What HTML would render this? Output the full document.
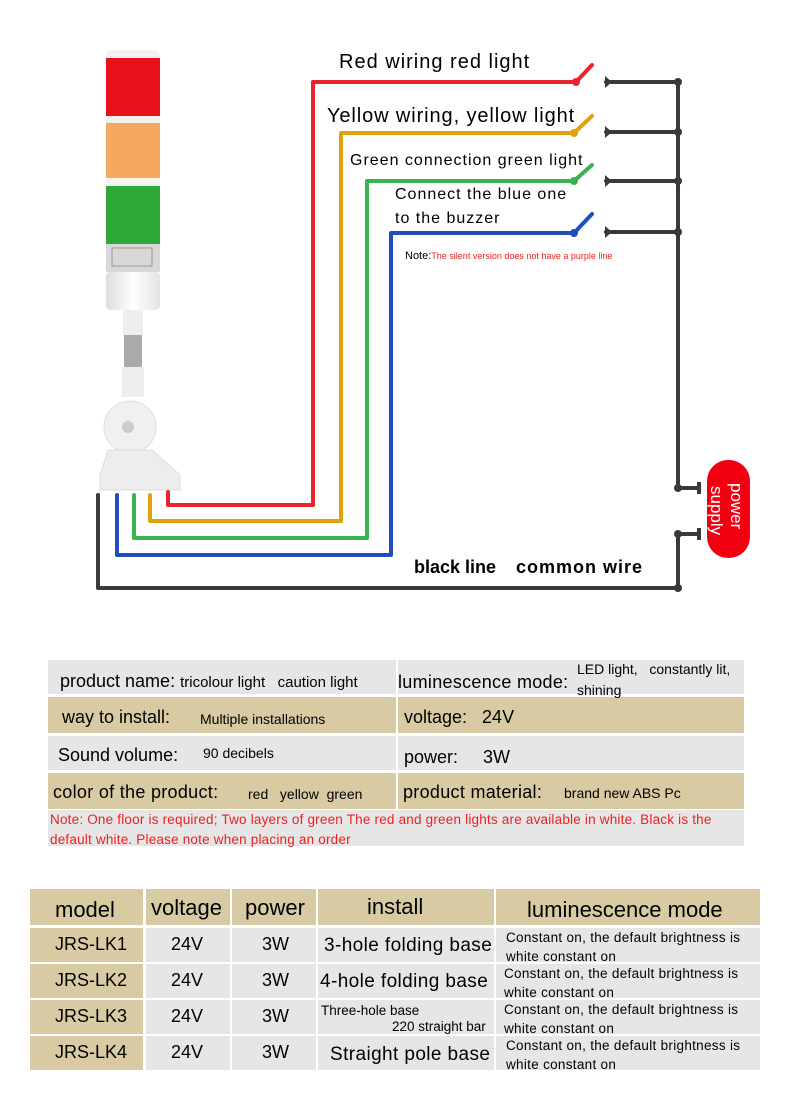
<!DOCTYPE html>
<html><head><meta charset="utf-8"><style>
body{margin:0;width:790px;height:1120px;background:#fff;position:relative;font-family:"Liberation Sans",sans-serif;overflow:hidden}
.a{position:absolute;white-space:nowrap}
.t1 div,.t2 div{position:absolute;box-sizing:border-box}
.g{background:#e6e6e6}.k{background:#d8cba3}
</style></head><body>
<svg class="a" style="left:0;top:0" width="790" height="620">
<defs><linearGradient id="wh" x1="0" x2="1"><stop offset="0" stop-color="#ddd"/><stop offset=".5" stop-color="#fff"/><stop offset="1" stop-color="#e4e4e4"/></linearGradient></defs>
<rect x="106" y="50" width="54" height="12" rx="5" fill="#f2f2f2"/>
<rect x="106" y="58" width="54" height="58" fill="#e8101a"/>
<rect x="106" y="116" width="54" height="8" fill="#f4f0ee"/>
<rect x="106" y="123" width="54" height="55" fill="#f5a860"/>
<rect x="106" y="178" width="54" height="8" fill="#f3f3f0"/>
<rect x="106" y="186" width="54" height="58" fill="#2fa83a"/>
<rect x="106" y="244" width="54" height="28" fill="#d8d8d8"/>
<rect x="112" y="248" width="40" height="18" fill="none" stroke="#999" stroke-width="1"/>
<rect x="106" y="272" width="54" height="38" rx="4" fill="url(#wh)"/>
<rect x="123" y="310" width="20" height="25" fill="#eee"/>
<rect x="124" y="335" width="18" height="32" fill="#aaa"/>
<rect x="122" y="367" width="22" height="30" fill="#eee"/>
<circle cx="130" cy="427" r="26" fill="#f0f0f0" stroke="#ddd"/>
<circle cx="128" cy="427" r="6" fill="#ccc"/>
<path d="M108 450 L152 450 L180 475 L180 490 L100 490 L100 475 Z" fill="#ededed" stroke="#ddd"/>
<g fill="none" stroke-width="4" stroke-linejoin="round" stroke-linecap="round">
<path d="M168 492 V505 H313 V82 H576 L592 65" stroke="#e8242c"/>
<path d="M150 495 V521 H341 V133 H574 L592 116" stroke="#e0a30d"/>
<path d="M134 495 V538 H367 V181 H574 L592 165" stroke="#3bb44f"/>
<path d="M117 495 V555 H391 V233 H574 L592 214" stroke="#1f4fbf"/>
<path d="M98 495 V588 H678 V534 H697 M678 82 V488 H697 M606 82 H678 M606 132 H678 M606 181 H678 M606 232 H678" stroke="#3a3a3a"/>
</g>
<circle cx="576" cy="82" r="4" fill="#e8242c"/>
<circle cx="574" cy="133" r="4" fill="#e0a30d"/><circle cx="574" cy="181" r="4" fill="#3bb44f"/><circle cx="574" cy="233" r="4" fill="#1f4fbf"/>
<g fill="#3a3a3a"><path d="M605 76 L612 82 L605 88Z"/><path d="M605 126 L612 132 L605 138Z"/><path d="M605 175 L612 181 L605 187Z"/><path d="M605 226 L612 232 L605 238Z"/>
<circle cx="678" cy="82" r="4"/><circle cx="678" cy="132" r="4"/><circle cx="678" cy="181" r="4"/><circle cx="678" cy="232" r="4"/><circle cx="678" cy="488" r="4"/><circle cx="678" cy="534" r="4"/><circle cx="678" cy="588" r="4"/>
<rect x="697" y="482" width="4" height="12"/><rect x="697" y="528" width="4" height="12"/></g>
<rect x="707" y="460" width="43" height="98" rx="21" fill="#f00010"/>
<text transform="translate(731,483) rotate(90)" font-size="17" fill="#fff" font-family="Liberation Sans">power</text>
<text transform="translate(711,486) rotate(90)" font-size="17" fill="#fff" font-family="Liberation Sans">supply</text>
</svg>
<div class="a" style="left:339px;top:51px;font-size:20px;letter-spacing:1px">Red wiring red light</div>
<div class="a" style="left:327px;top:105px;font-size:20px;letter-spacing:0.9px">Yellow wiring, yellow light</div>
<div class="a" style="left:350px;top:152px;font-size:16px;letter-spacing:1px">Green connection green light</div>
<div class="a" style="left:395px;top:186px;font-size:16px;letter-spacing:1px">Connect the blue one</div>
<div class="a" style="left:395px;top:210px;font-size:16px;letter-spacing:1px">to the buzzer</div>
<div class="a" style="left:405px;top:250px;font-size:11px">Note:<span style="color:#f02020;font-size:9px">The silent version does not have a purple line</span></div>
<div class="a" style="left:414px;top:557px;font-size:18px;font-weight:bold">black line</div>
<div class="a" style="left:516px;top:557px;font-size:18px;font-weight:bold;letter-spacing:1px">common wire</div>

<div class="t1">
<div class="g" style="left:48px;top:660px;width:348px;height:34px"></div><div class="g" style="left:398px;top:660px;width:346px;height:34px"></div>
<div class="k" style="left:48px;top:697px;width:348px;height:36px"></div><div class="k" style="left:398px;top:697px;width:346px;height:36px"></div>
<div class="g" style="left:48px;top:736px;width:348px;height:34px"></div><div class="g" style="left:398px;top:736px;width:346px;height:34px"></div>
<div class="k" style="left:48px;top:773px;width:348px;height:36px"></div><div class="k" style="left:398px;top:773px;width:346px;height:36px"></div>
<div class="g" style="left:48px;top:810px;width:696px;height:36px"></div>
</div>
<div class="a" style="left:60px;top:671px;font-size:18px">product name: <span style="font-size:15px">tricolour light &nbsp; caution light</span></div>
<div class="a" style="left:398px;top:672px;font-size:18px;letter-spacing:0.3px">luminescence mode:</div>
<div class="a" style="left:577px;top:661px;font-size:14px">LED light, &nbsp; constantly lit,</div>
<div class="a" style="left:577px;top:682px;font-size:14px">shining</div>
<div class="a" style="left:62px;top:707px;font-size:18px">way to install:</div>
<div class="a" style="left:200px;top:711px;font-size:14px">Multiple installations</div>
<div class="a" style="left:404px;top:707px;font-size:18px">voltage: &nbsp; 24V</div>
<div class="a" style="left:58px;top:745px;font-size:18px">Sound volume:</div>
<div class="a" style="left:203px;top:745px;font-size:14px">90 decibels</div>
<div class="a" style="left:404px;top:747px;font-size:18px">power: &nbsp;&nbsp;&nbsp; 3W</div>
<div class="a" style="left:53px;top:782px;font-size:18px;letter-spacing:0.3px">color of the product:</div>
<div class="a" style="left:248px;top:786px;font-size:14px">red &nbsp; yellow &nbsp;green</div>
<div class="a" style="left:403px;top:782px;font-size:18px;letter-spacing:0.3px">product material:</div>
<div class="a" style="left:564px;top:785px;font-size:14px">brand new ABS Pc</div>
<div class="a" style="left:50px;top:810px;font-size:13.5px;color:#f02020;line-height:20px;letter-spacing:0.2px">Note: One floor is required; Two layers of green The red and green lights are available in white. Black is the<br>default white. Please note when placing an order</div>

<div class="t2">
<div class="k" style="left:30px;top:889px;width:730px;height:36px"></div>
<div class="k" style="left:30px;top:928px;width:113px;height:142px"></div>
<div class="g" style="left:146px;top:928px;width:614px;height:34px"></div>
<div class="g" style="left:146px;top:964px;width:614px;height:34px"></div>
<div class="g" style="left:146px;top:1000px;width:614px;height:34px"></div>
<div class="g" style="left:146px;top:1036px;width:614px;height:34px"></div>
<div style="left:30px;top:962px;width:730px;height:2px;background:#fff"></div>
<div style="left:30px;top:998px;width:730px;height:2px;background:#fff"></div>
<div style="left:30px;top:1034px;width:730px;height:2px;background:#fff"></div>
<div style="left:30px;top:925px;width:730px;height:3px;background:#fff"></div>
<div style="left:143px;top:889px;width:3px;height:181px;background:#fff"></div>
<div style="left:230px;top:889px;width:2px;height:181px;background:#fff"></div>
<div style="left:316px;top:889px;width:2px;height:181px;background:#fff"></div>
<div style="left:494px;top:889px;width:2px;height:181px;background:#fff"></div>
</div>
<div class="a" style="left:55px;top:897px;font-size:22px">model</div>
<div class="a" style="left:151px;top:895px;font-size:22px">voltage</div>
<div class="a" style="left:245px;top:895px;font-size:22px">power</div>
<div class="a" style="left:367px;top:894px;font-size:22px">install</div>
<div class="a" style="left:527px;top:897px;font-size:22px">luminescence mode</div>
<div class="a" style="left:55px;top:934px;font-size:18px">JRS-LK1</div>
<div class="a" style="left:55px;top:970px;font-size:18px">JRS-LK2</div>
<div class="a" style="left:55px;top:1006px;font-size:18px">JRS-LK3</div>
<div class="a" style="left:55px;top:1042px;font-size:18px">JRS-LK4</div>
<div class="a" style="left:171px;top:934px;font-size:18px">24V</div><div class="a" style="left:171px;top:970px;font-size:18px">24V</div><div class="a" style="left:171px;top:1006px;font-size:18px">24V</div><div class="a" style="left:171px;top:1042px;font-size:18px">24V</div>
<div class="a" style="left:262px;top:934px;font-size:18px">3W</div><div class="a" style="left:262px;top:970px;font-size:18px">3W</div><div class="a" style="left:262px;top:1006px;font-size:18px">3W</div><div class="a" style="left:262px;top:1042px;font-size:18px">3W</div>
<div class="a" style="left:324px;top:935px;font-size:19px;letter-spacing:0.4px">3-hole folding base</div>
<div class="a" style="left:320px;top:971px;font-size:19px;letter-spacing:0.4px">4-hole folding base</div>
<div class="a" style="left:321px;top:1003px;font-size:13.5px">Three-hole base</div>
<div class="a" style="left:392px;top:1019px;font-size:13.5px">220 straight bar</div>
<div class="a" style="left:330px;top:1044px;font-size:19px;letter-spacing:0.4px">Straight pole base</div>
<div class="a" style="left:506px;top:928px;font-size:13.5px;line-height:19px;letter-spacing:0.3px">Constant on, the default brightness is<br>white constant on</div>
<div class="a" style="left:504px;top:964px;font-size:13.5px;line-height:19px;letter-spacing:0.3px">Constant on, the default brightness is<br>white constant on</div>
<div class="a" style="left:504px;top:1000px;font-size:13.5px;line-height:19px;letter-spacing:0.3px">Constant on, the default brightness is<br>white constant on</div>
<div class="a" style="left:506px;top:1036px;font-size:13.5px;line-height:19px;letter-spacing:0.3px">Constant on, the default brightness is<br>white constant on</div>
</body></html>
